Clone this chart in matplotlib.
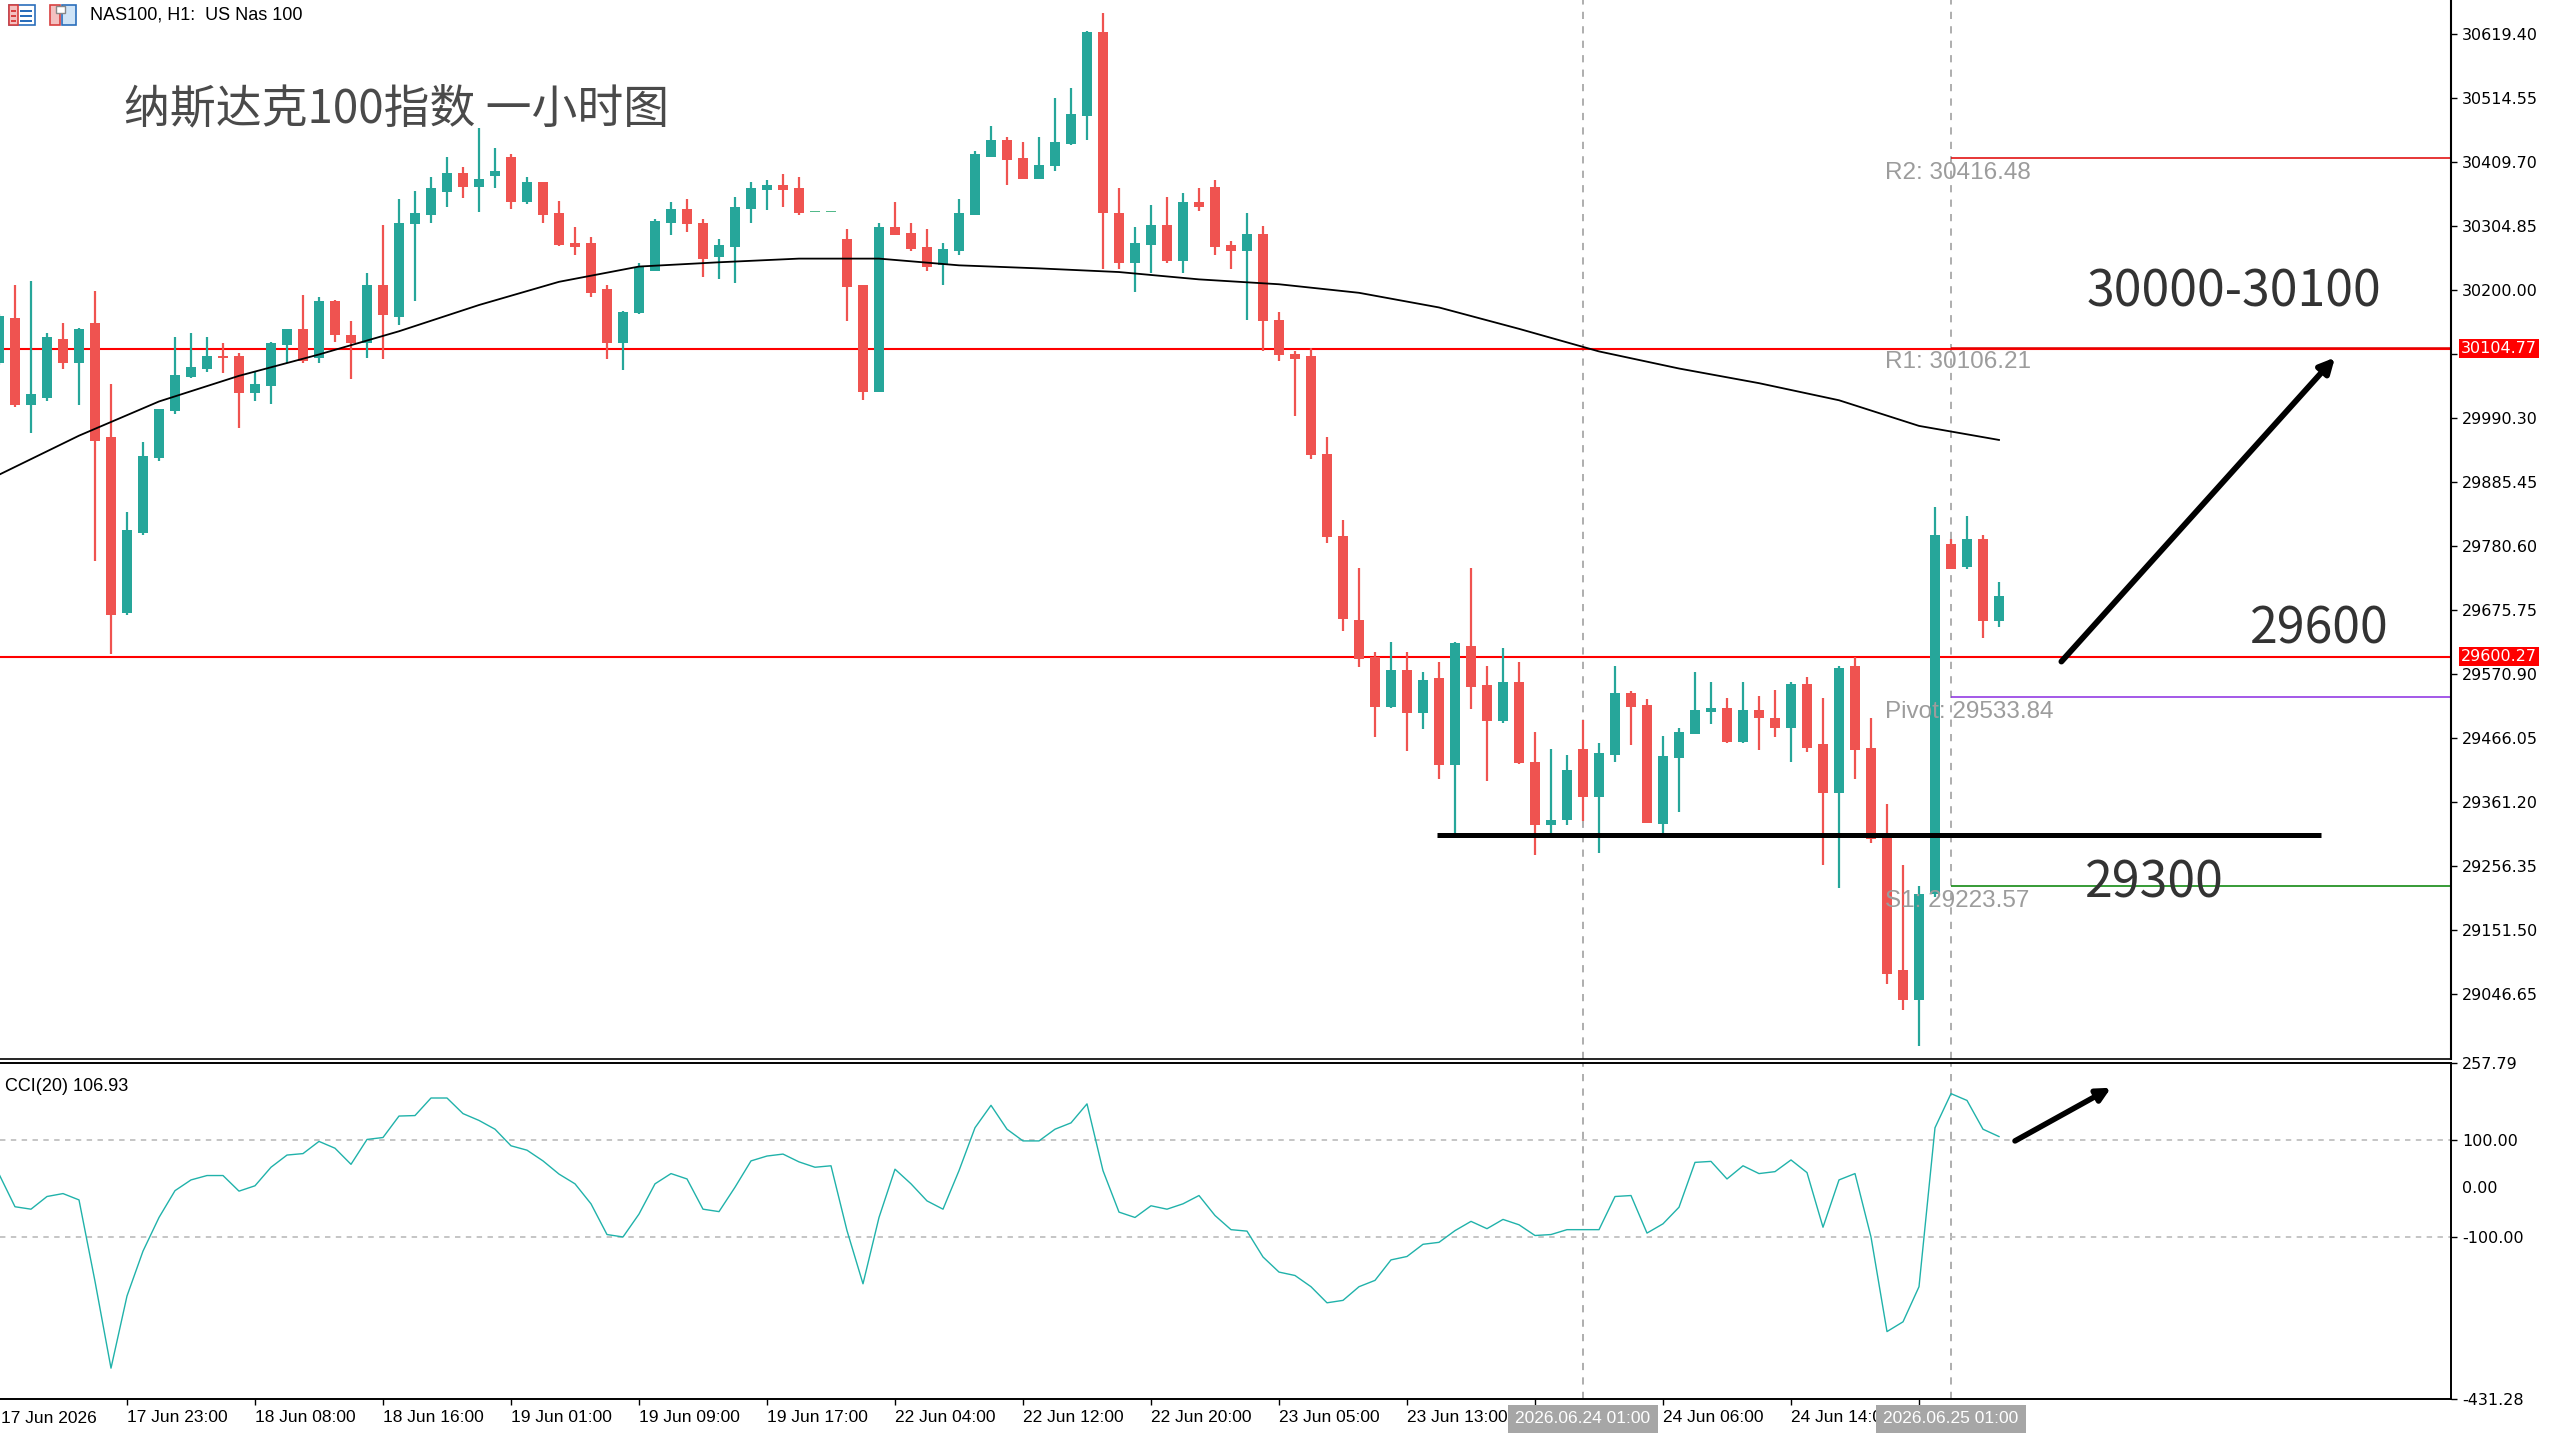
import matplotlib
matplotlib.use("agg")
import matplotlib.pyplot as plt
import matplotlib.transforms as mtrans
from matplotlib.patches import Rectangle
import numpy as np

# ---- data (NAS100, H1) ----
opens = [30081, 30155, 30012, 30024, 30120, 30081, 30146, 29959, 29671, 29802,
         29926, 30002, 30058, 30071, 30092, 30093, 30032, 30044, 30111, 30136,
         30089, 30182, 30127, 30113, 30208, 30157, 30308, 30324, 30361, 30393,
         30370, 30387, 30419, 30344, 30377, 30327, 30278, 30278, 30202, 30113,
         30163, 30232, 30311, 30334, 30311, 30255, 30271, 30334, 30364, 30373,
         30367, 30329, 30329, 30284, 30208, 30034, 30304, 30294, 30271, 30241,
         30264, 30324, 30419, 30446, 30416, 30383, 30403, 30439, 30485, 30624,
         30327, 30245, 30274, 30307, 30248, 30344, 30370, 30274, 30264, 30293,
         30152, 30096, 30093, 29932, 29798, 29660, 29600, 29517, 29578, 29507,
         29565, 29422, 29618, 29553, 29494, 29559, 29428, 29324, 29333, 29448,
         29370, 29439, 29540, 29521, 29326, 29434, 29474, 29510, 29516, 29461,
         29513, 29500, 29483, 29556, 29457, 29376, 29585, 29451, 29307, 29086,
         29037, 29212, 29785, 29747, 29792, 29658]
highs = [30161, 30208, 30215, 30130, 30146, 30139, 30199, 30047, 29837, 29952,
         30005, 30123, 30130, 30123, 30113, 30097, 30067, 30116, 30136, 30192,
         30189, 30185, 30149, 30228, 30307, 30349, 30362, 30386, 30419, 30402,
         30466, 30433, 30423, 30386, 30377, 30347, 30304, 30287, 30208, 30166,
         30245, 30317, 30344, 30350, 30317, 30284, 30353, 30377, 30380, 30390,
         30386, 30329, 30329, 30301, 30209, 30311, 30344, 30311, 30301, 30278,
         30350, 30429, 30469, 30452, 30443, 30452, 30515, 30532, 30625, 30654,
         30367, 30304, 30340, 30353, 30360, 30367, 30380, 30281, 30326, 30306,
         30165, 30101, 30105, 29959, 29824, 29746, 29608, 29624, 29608, 29575,
         29592, 29624, 29746, 29585, 29615, 29592, 29477, 29448, 29439, 29497,
         29458, 29585, 29543, 29530, 29470, 29483, 29575, 29559, 29533, 29559,
         29536, 29546, 29559, 29566, 29533, 29585, 29600, 29500, 29359, 29258,
         29224, 29845, 29792, 29831, 29799, 29723]
lows = [30078, 30009, 29966, 30018, 30071, 30012, 29756, 29605, 29669, 29800,
        29920, 29998, 30057, 30067, 30064, 29975, 30019, 30014, 30081, 30081,
        30081, 30116, 30055, 30090, 30087, 30143, 30182, 30311, 30337, 30351,
        30328, 30367, 30334, 30341, 30311, 30273, 30258, 30189, 30087, 30070,
        30162, 30231, 30291, 30295, 30222, 30219, 30212, 30311, 30331, 30337,
        30324, 30329, 30329, 30149, 30021, 30033, 30290, 30264, 30231, 30208,
        30258, 30323, 30419, 30373, 30382, 30382, 30396, 30438, 30446, 30235,
        30235, 30198, 30228, 30245, 30228, 30330, 30258, 30235, 30152, 30100,
        30084, 29995, 29923, 29786, 29642, 29583, 29468, 29516, 29445, 29481,
        29399, 29307, 29514, 29396, 29491, 29425, 29275, 29311, 29324, 29331,
        29279, 29428, 29455, 29327, 29310, 29346, 29474, 29490, 29458, 29458,
        29447, 29468, 29428, 29444, 29258, 29221, 29399, 29294, 29064, 29022,
        28963, 29206, 29743, 29743, 29631, 29648]
closes = [30158, 30012, 30031, 30123, 30081, 30136, 29953, 29668, 29808, 29929,
          30005, 30061, 30074, 30093, 30090, 30032, 30047, 30113, 30136, 30084,
          30182, 30127, 30113, 30208, 30159, 30310, 30326, 30367, 30393, 30370,
          30383, 30396, 30344, 30377, 30324, 30275, 30271, 30196, 30113, 30165,
          30238, 30314, 30334, 30308, 30252, 30274, 30337, 30367, 30373, 30364,
          30327, 30329, 30329, 30205, 30034, 30304, 30291, 30268, 30238, 30268,
          30327, 30423, 30446, 30413, 30383, 30406, 30443, 30489, 30624, 30327,
          30245, 30278, 30307, 30248, 30344, 30337, 30271, 30264, 30293, 30149,
          30094, 30087, 29930, 29796, 29661, 29597, 29517, 29578, 29507, 29562,
          29422, 29622, 29550, 29494, 29559, 29426, 29324, 29333, 29415, 29370,
          29442, 29540, 29517, 29328, 29437, 29477, 29513, 29516, 29461, 29513,
          29500, 29483, 29556, 29451, 29376, 29582, 29447, 29301, 29080, 29037,
          29212, 29799, 29744, 29792, 29658, 29700]

# moving average, read every 5 bars
ma_bars = [0, 5, 10, 15, 20, 25, 30, 35, 40, 45, 50, 55, 60, 65, 70, 75, 80,
           85, 90, 95, 100, 105, 110, 115, 120, 125]
ma_vals = [29898, 29962, 30018, 30060, 30095, 30133, 30176, 30214, 30239,
           30246, 30252, 30252, 30241, 30236, 30230, 30218, 30210, 30196,
           30172, 30137, 30100, 30072, 30048, 30020, 29978, 29955]

cci = [30, -37, -42, -16, -10, -23, -190, -368, -220, -128,
       -59, -4, 18, 27, 27, -5, 6, 44, 69, 72,
       97, 83, 50, 101, 105, 149, 150, 186, 186, 154,
       140, 122, 88, 79, 57, 30, 10, -31, -94, -99,
       -52, 10, 31, 20, -42, -47, 3, 57, 67, 71,
       55, 44, 47, -86, -195, -59, 40, 10, -25, -42,
       37, 125, 171, 122, 98, 98, 122, 135, 174, 37,
       -48, -59, -35, -42, -31, -14, -55, -84, -87, -140,
       -171, -178, -201, -234, -229, -201, -188, -146, -139, -114,
       -110, -86, -67, -82, -63, -74, -96, -94, -84, -84,
       -84, -16, -14, -91, -72, -38, 54, 56, 20, 47,
       31, 35, 59, 33, -79, 18, 31, -99, -293, -273,
       -201, 125, 195, 181, 122, 106.93]

# 30095.15 sits under the red price box in the chart, so its label is blank
price_ticks = [30619.40, 30514.55, 30409.70, 30304.85, 30200.00, 30095.15,
               29990.30, 29885.45, 29780.60, 29675.75, 29570.90, 29466.05,
               29361.20, 29256.35, 29151.50, 29046.65]
price_labels = ["30619.40", "30514.55", "30409.70", "30304.85", "30200.00", "",
                "29990.30", "29885.45", "29780.60", "29675.75", "29570.90",
                "29466.05", "29361.20", "29256.35", "29151.50", "29046.65"]
cci_ticks = [257.79, 100.00, -100.00, -431.28]

# labels under the two highlighted boxes are hidden in the chart -> blank
time_ticks = [8, 16, 24, 32, 40, 48, 56, 64, 72, 80, 88, 96, 104, 112, 120]
time_labels = ["17 Jun 23:00", "18 Jun 08:00", "18 Jun 16:00", "19 Jun 01:00",
               "19 Jun 09:00", "19 Jun 17:00", "22 Jun 04:00", "22 Jun 12:00",
               "22 Jun 20:00", "23 Jun 05:00", "23 Jun 13:00", "",
               "24 Jun 06:00", "24 Jun 14:00", ""]
first_label = "17 Jun 2026"
marked_bars = [99, 122]
marked_labels = ["2026.06.24 01:00", "2026.06.25 01:00"]

red_levels = [30104.77, 29600.27]
pivot_names = ["R2", "R1", "Pivot", "S1"]
pivot_levels = [30416.48, 30106.21, 29533.84, 29223.57]
pivot_colors = ["#e00000", "#e00000", "#8a2be2", "#008000"]
support_level = 29308

TEAL = "#26a69a"
RED = "#ef5350"
FLAT = "#52b98a"

W, H = 2560, 1434
fig = plt.figure(figsize=(W / 100, H / 100), dpi=100)
fig.patch.set_facecolor("white")


def fx(px):
    return px / W


def fy(py):
    return 1 - py / H


ax = fig.add_axes([0, fy(1059), fx(2451), fy(0) - fy(1059)])
cx = fig.add_axes([0, fy(1399), fx(2451), fy(1063) - fy(1399)])
XMIN, XMAX = 0.0625, 153.25

# ---- main panel ----
o = np.array(opens, float)
h = np.array(highs, float)
l = np.array(lows, float)
c = np.array(closes, float)
idx = np.arange(len(o))
cols = np.where(c >= o, TEAL, RED).astype(object)
cols[h == l] = FLAT

ax.vlines(idx, l, h, colors=list(cols), lw=1.6, zorder=3)
diff = np.abs(c - o)
minh = 2.6
bottom = np.minimum(o, c) - np.where(diff < minh, (minh - diff) / 2, 0)
ax.bar(idx, np.maximum(diff, minh), bottom=bottom, width=0.62,
       color=list(cols), lw=0, zorder=3)

ax.plot(ma_bars, ma_vals, color="black", lw=1.3, zorder=4)

for lv in red_levels:
    ax.axhline(lv, color="#ff0000", lw=1.5, zorder=2)

for name, lv, col in zip(pivot_names, pivot_levels, pivot_colors):
    ax.hlines(lv, marked_bars[1], XMAX, color=col, lw=1.1, zorder=2)
    ax.text(117.9, lv - 24, f"{name}: {lv:.2f}", color="#9c9c9c",
            fontsize=17.5, family="Liberation Sans", va="center", ha="left",
            zorder=8)

for b in marked_bars:
    ax.axvline(b, color="#a8a8a8", lw=1.3, ls=(0, (4, 4)), zorder=1)
    cx.axvline(b, color="#a8a8a8", lw=1.3, ls=(0, (4, 4)), zorder=1)

ax.hlines(support_level, 89.9, 145.1, color="black", lw=3.6, zorder=6)

ax.annotate("", xy=(146.0, 30090), xytext=(128.9, 29592),
            arrowprops=dict(arrowstyle="-|>", lw=4.2, color="black",
                            mutation_scale=22, shrinkA=0, shrinkB=0),
            zorder=7)

big = dict(fontsize=36, color="#333333", family=["Noto Sans CJK SC", "DejaVu Sans"],
           va="center", ha="left", zorder=8)
ax.text(130.5, 30197, "30000-30100", **big)
ax.text(140.7, 29645, "29600", **big)
ax.text(130.4, 29229, "29300", **big)

ax.set_xlim(XMIN, XMAX)
ax.set_ylim(28941, 30675.6)
ax.set_xticks([])
ax.yaxis.tick_right()
ax.set_yticks(price_ticks)
ax.set_yticklabels(price_labels)
ax.tick_params(axis="y", direction="out", length=4.3, width=1, pad=3.6,
               labelsize=11.5, colors="black")
for s in ["left", "top"]:
    ax.spines[s].set_visible(False)
ax.spines["right"].set_linewidth(1.5)
ax.spines["bottom"].set_linewidth(1.2)

yb = mtrans.blended_transform_factory(ax.transAxes, ax.transData)
for lv in red_levels:
    ax.text(1.0041, lv, f"{lv:.2f}", transform=yb, color="white", fontsize=11.5,
            va="center", ha="left", clip_on=False, zorder=10,
            bbox=dict(boxstyle="square,pad=0.12", fc="#ff0000", ec="none"))

# ---- CCI panel ----
cx.plot(idx, cci, color="#20b2aa", lw=1.0, zorder=3)
for lv in [100, -100]:
    cx.axhline(lv, color="#c0c0c0", lw=1.3, ls=(0, (3, 3)), zorder=1)

cx.annotate("", xy=(132.0, 207), xytext=(126.0, 98),
            arrowprops=dict(arrowstyle="-|>", lw=4.0, color="black",
                            mutation_scale=20, shrinkA=0, shrinkB=0),
            zorder=7)

cx.set_xlim(XMIN, XMAX)
cx.set_ylim(-431.28, 257.79)
cx.yaxis.tick_right()
cx.set_yticks(cci_ticks)
cx.set_yticklabels([f"{v:.2f}" for v in cci_ticks])
cx.tick_params(axis="y", direction="out", length=4.3, width=1, pad=3.6,
               labelsize=11.5)
cyb = mtrans.blended_transform_factory(cx.transAxes, cx.transData)
cx.text(1.0045, 0, "0.00", transform=cyb, fontsize=11.5, va="center",
        ha="left", clip_on=False)
cx.spines["left"].set_visible(False)
for s in ["right", "top", "bottom"]:
    cx.spines[s].set_linewidth(1.4)

cx.set_xticks(time_ticks)
cx.set_xticklabels(time_labels, ha="left", family="Liberation Sans",
                   fontsize=12.5)
cx.tick_params(axis="x", direction="out", length=4.3, width=1, pad=3.5)

xb = mtrans.blended_transform_factory(cx.transData, cx.transAxes)
cx.text(XMIN + 0.05, -0.0345, first_label, transform=xb, ha="left", va="top",
        family="Liberation Sans", fontsize=12.5, clip_on=False)
for b, lab in zip(marked_bars, marked_labels):
    cx.text(b, -0.0595, lab, transform=xb, ha="center", va="center",
            family="Liberation Sans", fontsize=12.5, color="white",
            clip_on=False, zorder=10,
            bbox=dict(boxstyle="square,pad=0.4", fc="#a6a6a6", ec="none"))

cx.text(0.002, 0.955, f"CCI(20) {cci[-1]:.2f}", transform=cx.transAxes,
        fontsize=13, family="Liberation Sans", va="top", ha="left")

# ---- header and title ----
fig.text(fx(90), fy(15), "NAS100, H1:  US Nas 100", fontsize=13,
         family="Liberation Sans", va="center", ha="left")
fig.text(fx(124), fy(109), "纳斯达克100指数 一小时图", fontsize=33,
         color="#4a4a4a", family=["Noto Sans CJK SC", "DejaVu Sans"],
         va="center", ha="left")

# small toolbar icons
def px_rect(x0, y0, w, hh, **kw):
    fig.patches.append(Rectangle((fx(x0), fy(y0 + hh)), w / W, hh / H,
                                 transform=fig.transFigure, **kw))

px_rect(9, 5, 26, 20, fc="white", ec="#2a6ebb", lw=1.2)
px_rect(9, 5, 9, 20, fc="#f3c0c0", ec="#d84040", lw=1.2)
for yy in [10, 15, 20]:
    px_rect(20, yy, 12, 1.5, fc="#2a6ebb", ec="none")
    px_rect(11, yy, 5, 1.5, fc="#d84040", ec="none")
px_rect(50, 5, 10, 20, fc="#f3c0c0", ec="#d84040", lw=1.2)
px_rect(62, 5, 14, 20, fc="#cfe4f7", ec="#2a6ebb", lw=1.2)
px_rect(56, 6, 9, 7, fc="white", ec="#888888", lw=1.0)

fig.savefig("out.png", dpi=100, facecolor="white")
